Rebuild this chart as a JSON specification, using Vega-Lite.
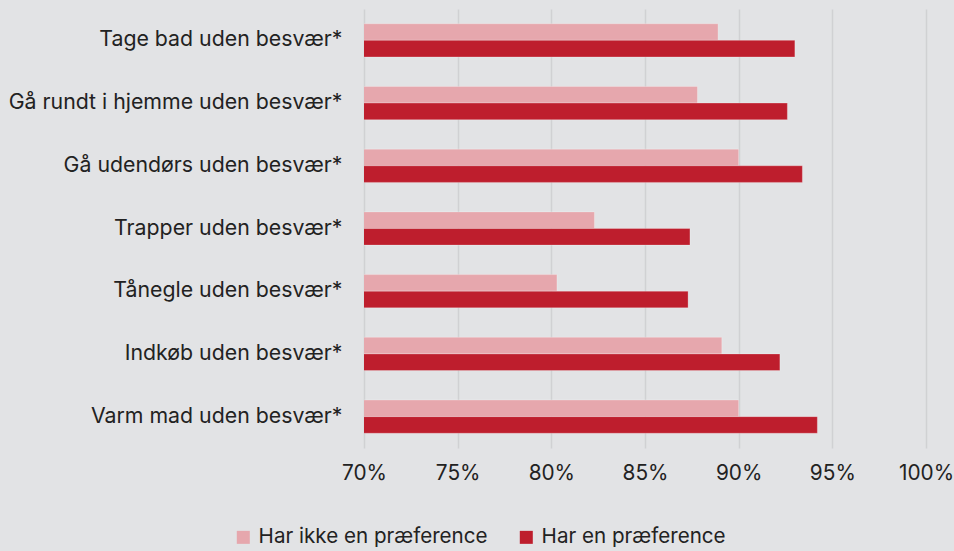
{
  "$schema": "https://vega.github.io/schema/vega-lite/v6.json",
  "autosize": {"type": "none"},
  "padding": {"left": 364, "top": 9, "right": 28, "bottom": 103},
  "width": 562,
  "height": 439,
  "background": "#e2e3e5",
  "config": {
    "view": {"stroke": null},
    "font": "Inter",
    "axis": {"labelFont": "Inter", "labelColor": "#222222", "labelFontSize": 21}
  },
  "data": {
    "values": [
      {"item": "Tage bad uden besvær*", "group": "Har ikke en præference", "value": 0.889},
      {"item": "Tage bad uden besvær*", "group": "Har en præference", "value": 0.930},
      {"item": "Gå rundt i hjemme uden besvær*", "group": "Har ikke en præference", "value": 0.878},
      {"item": "Gå rundt i hjemme uden besvær*", "group": "Har en præference", "value": 0.926},
      {"item": "Gå udendørs uden besvær*", "group": "Har ikke en præference", "value": 0.900},
      {"item": "Gå udendørs uden besvær*", "group": "Har en præference", "value": 0.934},
      {"item": "Trapper uden besvær*", "group": "Har ikke en præference", "value": 0.823},
      {"item": "Trapper uden besvær*", "group": "Har en præference", "value": 0.874},
      {"item": "Tånegle uden besvær*", "group": "Har ikke en præference", "value": 0.803},
      {"item": "Tånegle uden besvær*", "group": "Har en præference", "value": 0.873},
      {"item": "Indkøb uden besvær*", "group": "Har ikke en præference", "value": 0.891},
      {"item": "Indkøb uden besvær*", "group": "Har en præference", "value": 0.922},
      {"item": "Varm mad uden besvær*", "group": "Har ikke en præference", "value": 0.900},
      {"item": "Varm mad uden besvær*", "group": "Har en præference", "value": 0.942}
    ]
  },
  "mark": {"type": "bar", "clip": true, "stroke": "#ffffff", "strokeOpacity": 0.25, "strokeWidth": 1},
  "encoding": {
    "y": {
      "field": "item",
      "type": "nominal",
      "sort": null,
      "scale": {"paddingInner": 0.47, "paddingOuter": 0.235},
      "axis": {"title": null, "ticks": false, "domain": false, "labelPadding": 22, "labelFontSize": 21.3, "labelLimit": 0, "grid": false}
    },
    "yOffset": {
      "field": "group",
      "type": "nominal",
      "sort": ["Har ikke en præference", "Har en præference"]
    },
    "x": {
      "field": "value",
      "type": "quantitative",
      "scale": {"domain": [0.7, 1.0], "zero": false, "nice": false},
      "axis": {
        "title": null,
        "format": ".0%",
        "values": [0.7, 0.75, 0.8, 0.85, 0.9, 0.95, 1.0],
        "ticks": false,
        "domain": false,
        "grid": true,
        "gridColor": "#d0d1d3",
        "gridWidth": 1.5,
        "labelPadding": 15,
        "labelFontSize": 20.8,
        "labelFlush": false,
        "labelBound": false,
        "labelOverlap": false
      }
    },
    "color": {
      "field": "group",
      "type": "nominal",
      "sort": ["Har ikke en præference", "Har en præference"],
      "scale": {"domain": ["Har ikke en præference", "Har en præference"], "range": ["#e6a7ad", "#be1e2d"]},
      "legend": {
        "title": null,
        "orient": "none",
        "direction": "horizontal",
        "legendX": -131,
        "legendY": 518,
        "symbolType": "square",
        "symbolSize": 169,
        "symbolStrokeWidth": 0,
        "labelFontSize": 20.6,
        "labelLimit": 0,
        "labelColor": "#222222",
        "labelFont": "Inter",
        "columnPadding": 28,
        "symbolOffset": 0,
        "labelOffset": 5
      }
    }
  }
}
